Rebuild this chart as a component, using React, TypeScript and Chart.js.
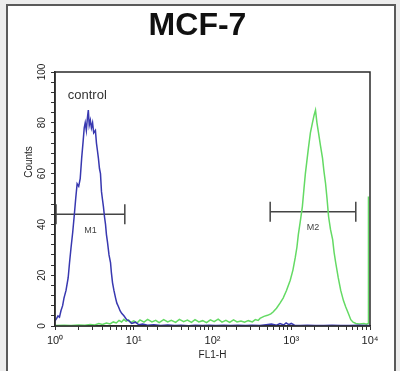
import React, { useEffect, useRef } from 'react';
import { Chart, registerables } from 'chart.js';

Chart.register(...registerables);

const TITLE = 'MCF-7';
const X_TITLE = 'FL1-H';
const Y_TITLE = 'Counts';
const CONTROL_LABEL = 'control';
const X_TICK_LABELS: Record<number, string> = { 0: '10⁰', 1: '10¹', 2: '10²', 3: '10³', 4: '10⁴' };
const Y_LABEL_VALUES = [0, 20, 40, 60, 80, 100];

// control (blue) histogram: FL1-H intensity vs counts
const controlX = [1, 1.05, 1.09, 1.14, 1.19, 1.25, 1.3, 1.38, 1.47, 1.53, 1.6, 1.68, 1.75, 1.83, 1.91, 2.0, 2.09, 2.18, 2.28, 2.35, 2.42, 2.5, 2.58, 2.65, 2.72, 2.81, 2.9, 3.0, 3.1, 3.26, 3.36, 3.46, 3.56, 3.67, 3.78, 3.89, 4.0, 4.12, 4.25, 4.38, 4.5, 4.64, 4.85, 5.07, 5.2, 5.38, 5.6, 5.88, 6.1, 6.42, 6.7, 7.02, 7.5, 8.13, 8.7, 9.42, 10.5, 11.6, 13, 15, 18, 22, 27, 33, 40, 50, 60, 75, 90, 110, 140, 170, 210, 260, 320, 400, 480, 560, 650, 720, 800, 860, 930, 1000, 1100, 1300, 1600, 2000, 2600, 3300, 4200, 5500, 7000, 9000, 10000];
const controlCounts = [2, 3, 4, 3.5, 6, 8, 11, 14, 19, 25, 31, 37, 43, 50, 56, 55, 58, 66, 73, 78, 80, 77, 82, 85, 79, 81, 78, 80, 76, 77, 72, 69, 66, 62, 60, 53, 50, 47, 43, 40, 36, 33, 28, 25, 21, 17, 14, 11, 9, 7.5, 6, 5, 4, 2.5, 2, 1, 1.5, 0.5, 0.8, 0.3, 0.5, 0.2, 0.4, 0.2, 0.3, 0.1, 0.3, 0.2, 0.3, 0.2, 0.3, 0.2, 0.3, 0.2, 0.3, 0.2, 0.5, 0.8, 0.3, 1.0, 0.4, 1.2, 0.5, 1.0, 0.3, 0.2, 0.3, 0.2, 0.2, 0.3, 0.2, 0.2, 0.3, 0.2, 0.2];

// MCF-7 (green) histogram
const sampleX = [1, 1.3, 1.6, 2.0, 2.4, 2.8, 3.2, 3.6, 4.0, 4.5, 5.0, 5.5, 6.0, 6.5, 7.0, 7.5, 8.0, 8.6, 9.2, 10, 11, 12, 13.5, 15, 17, 19, 21, 24, 27, 30, 34, 38, 43, 48, 54, 60, 67, 75, 84, 94, 105, 118, 132, 148, 165, 185, 205, 230, 255, 285, 320, 350, 380, 401, 450, 500, 550, 588, 650, 720, 789, 870, 971, 1050, 1125, 1180, 1230, 1300, 1384, 1450, 1511, 1580, 1652, 1750, 1858, 1950, 2032, 2120, 2220, 2350, 2497, 2600, 2729, 2850, 2980, 3150, 3356, 3500, 3664, 3950, 4248, 4600, 4922, 5300, 5702, 6100, 6616, 7300, 8375, 9000, 9425, 9550, 9560];
const sampleCounts = [0.2, 0.3, 0.2, 0.4, 0.3, 0.6, 0.4, 1.0, 0.6, 1.2, 0.8, 1.6, 1.2, 2.2, 1.6, 2.6, 1.8, 2.4, 1.4, 2.0, 1.2, 2.4, 1.5, 2.6, 1.6, 2.2, 1.3, 2.5, 1.6, 2.2, 1.4, 2.6, 1.7, 2.3, 1.4, 2.5, 1.6, 2.1, 1.3, 2.4, 1.7, 2.7, 1.5, 2.2, 1.4, 2.4, 1.6, 2.0, 1.5, 2.1, 1.6, 2.5, 2.2, 3.0, 3.8, 4.2, 4.8, 5.5, 7, 9, 11, 14, 18, 22, 27, 31, 36, 41, 47, 54, 60, 65, 70, 76, 80, 83, 85, 80, 76, 71, 66, 61, 56, 50, 43, 38, 34, 29, 25, 19, 14, 10, 7.5, 5, 2.5, 1.5, 1, 0.8, 1, 0.7, 1, 1, 51];

// markers
const markerNames = ['M1', 'M2'];
const markerStart = [1.03, 540];
const markerEnd = [7.7, 6600];
const markerLevel = [44, 45];

const FONT = 'Liberation Sans, Arial, sans-serif';

export default function App() {
  const ref = useRef<HTMLCanvasElement | null>(null);

  useEffect(() => {
    if (!ref.current) return;

    const decor = {
      id: 'decor',
      beforeDraw(chart: any) {
        const ctx = chart.ctx;
        ctx.save();
        ctx.fillStyle = '#ededed';
        ctx.fillRect(0, 0, chart.width, chart.height);
        ctx.fillStyle = '#ffffff';
        ctx.fillRect(7, 5, 388, chart.height);
        ctx.strokeStyle = '#5a5a5a';
        ctx.lineWidth = 2;
        ctx.beginPath();
        ctx.moveTo(7, chart.height + 2);
        ctx.lineTo(7, 5);
        ctx.lineTo(395, 5);
        ctx.lineTo(395, chart.height + 2);
        ctx.stroke();

        ctx.fillStyle = '#111';
        ctx.font = `bold 32px ${FONT}`;
        ctx.textAlign = 'center';
        ctx.textBaseline = 'alphabetic';
        ctx.fillText(TITLE, 197.5, 35);
        ctx.restore();
      },
      afterDatasetsDraw(chart: any) {
        const ctx = chart.ctx;
        const { left, top, right, bottom } = chart.chartArea;
        const xs = chart.scales.x;
        const ys = chart.scales.y;
        ctx.save();
        ctx.strokeStyle = '#2a2a2a';
        ctx.lineWidth = 1.5;
        ctx.strokeRect(left, top, right - left, bottom - top);

        ctx.fillStyle = '#333';
        ctx.font = `13px ${FONT}`;
        ctx.textAlign = 'center';
        ctx.textBaseline = 'middle';
        ctx.fillText(CONTROL_LABEL, xs.getPixelForValue(2.57), ys.getPixelForValue(90.6));

        ctx.font = `9px ${FONT}`;
        ctx.fillStyle = '#444';
        markerNames.forEach((n, i) => {
          const mid = Math.sqrt(markerStart[i] * markerEnd[i]);
          ctx.fillText(n, xs.getPixelForValue(mid), ys.getPixelForValue(markerLevel[i]) + 16);
        });

        ctx.font = `10px ${FONT}`;
        ctx.fillStyle = '#222';
        ctx.translate(29, 162);
        ctx.rotate(-Math.PI / 2);
        ctx.fillText(Y_TITLE, 0, 0);
        ctx.restore();
      },
    };

    const chart = new Chart(ref.current, {
      type: 'scatter',
      data: {
        datasets: [
          {
            data: controlX.map((x, i) => ({ x, y: controlCounts[i] })),
            showLine: true,
            borderColor: '#3838b0',
            borderWidth: 1.5,
            pointRadius: 0,
          },
          {
            data: sampleX.map((x, i) => ({ x, y: sampleCounts[i] })),
            showLine: true,
            borderColor: '#64da64',
            borderWidth: 1.5,
            pointRadius: 0,
          },
          ...markerNames.map((_, i) => ({
            data: [
              { x: markerStart[i], y: markerLevel[i] },
              { x: markerEnd[i], y: markerLevel[i] },
            ],
            showLine: true,
            borderColor: '#444',
            borderWidth: 1.5,
            pointStyle: 'line' as const,
            pointRotation: 90,
            pointRadius: 10,
            pointBorderColor: '#444',
            pointBorderWidth: 1.5,
          })),
        ],
      },
      options: {
        animation: false,
        responsive: false,
        devicePixelRatio: 1,
        layout: { padding: { left: 0, right: 30, top: 72, bottom: 0 } },
        plugins: {
          legend: { display: false },
          tooltip: { enabled: false },
          title: { display: false },
        },
        scales: {
          x: {
            type: 'logarithmic',
            min: 1,
            max: 10000,
            afterFit(scale: any) {
              scale.height = 45;
            },
            grid: { drawOnChartArea: false, drawTicks: true, tickLength: 4, color: '#333' },
            border: { color: '#2a2a2a', width: 1.5 },
            ticks: {
              autoSkip: false,
              maxRotation: 0,
              minRotation: 0,
              padding: 4,
              color: '#222',
              font: { family: FONT, size: 11 },
              callback: (v: any) => {
                const lv = Math.log10(Number(v));
                const r = Math.round(lv);
                return Math.abs(lv - r) < 1e-6 ? X_TICK_LABELS[r] ?? '' : '';
              },
            },
            title: {
              display: true,
              text: X_TITLE,
              color: '#222',
              font: { family: FONT, size: 10 },
              padding: { top: 0, bottom: 10 },
            },
          },
          y: {
            min: 0,
            max: 100,
            afterFit(scale: any) {
              scale.width = 55;
            },
            grid: { drawOnChartArea: false, drawTicks: true, tickLength: 4, color: '#333' },
            border: { color: '#2a2a2a', width: 1.5 },
            ticks: {
              stepSize: 4,
              autoSkip: false,
              minRotation: 90,
              maxRotation: 90,
              crossAlign: 'center',
              padding: 0,
              color: '#222',
              font: { family: FONT, size: 10 },
              callback: (v: any) => (Y_LABEL_VALUES.includes(Number(v)) ? String(v) : ''),
            },
          },
        },
      },
      plugins: [decor],
    } as any);

    return () => chart.destroy();
  }, []);

  return (
    <div style={{ position: 'fixed', left: 0, top: 0, width: 400, height: 371 }}>
      <canvas ref={ref} width={400} height={371} />
    </div>
  );
}
